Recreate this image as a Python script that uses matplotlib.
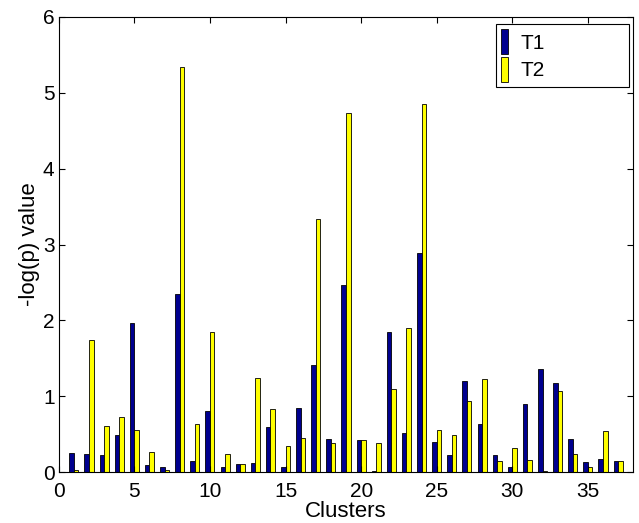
import numpy as np
import matplotlib
matplotlib.use("Agg")
import matplotlib.pyplot as plt

clusters = np.arange(1, 38)
t1 = [0.25, 0.24, 0.22, 0.49, 1.97, 0.09, 0.07, 2.35, 0.14, 0.80,
      0.07, 0.11, 0.12, 0.59, 0.07, 0.85, 1.41, 0.44, 2.47, 0.42,
      0.01, 1.85, 0.51, 2.89, 0.39, 0.22, 1.20, 0.63, 0.23, 0.07,
      0.90, 1.36, 1.17, 0.43, 0.13, 0.17, 0.15]
t2 = [0.02, 1.74, 0.61, 0.73, 0.56, 0.27, 0.02, 5.34, 0.63, 1.84,
      0.24, 0.10, 1.24, 0.83, 0.34, 0.45, 3.33, 0.38, 4.74, 0.42,
      0.38, 1.10, 1.90, 4.85, 0.55, 0.49, 0.93, 1.22, 0.15, 0.32,
      0.16, 0.01, 1.07, 0.24, 0.07, 0.54, 0.14]
series_names = ["T1", "T2"]

plt.rcParams['font.family'] = ['Liberation Sans', 'DejaVu Sans']

fig = plt.figure(figsize=(6.39, 5.23), dpi=100)
ax = fig.add_axes([0.092, 0.0975, 0.899, 0.870])

w = 0.3
ax.bar(clusters - w / 2, t1, width=w, color="#00008F", edgecolor="black",
       linewidth=0.6, label=series_names[0])
ax.bar(clusters + w / 2, t2, width=w, color="#FFFF00", edgecolor="black",
       linewidth=0.6, label=series_names[1])

ax.set_xlim(0, 38)
ax.set_ylim(0, 6)
ax.set_xticks(range(0, 36, 5))
ax.set_yticks(range(0, 7))
ax.tick_params(direction="in", top=True, right=True, labelsize=15,
               length=4, width=0.8)
ax.tick_params(axis="x", pad=7)
ax.tick_params(axis="y", pad=3)
for s in ax.spines.values():
    s.set_linewidth(0.8)
ax.set_xlabel("Clusters", fontsize=16, labelpad=0)
ax.set_ylabel("-log(p) value", fontsize=16, labelpad=2)

# legend box stretched like the matlab one
leg = ax.legend(loc="upper left", bbox_to_anchor=(0.761, 0.0, 0.232, 0.985),
                mode="expand", fontsize=15, handlelength=0.35,
                handleheight=1.5, handletextpad=0.6, borderaxespad=0.0,
                fancybox=False, edgecolor="black", framealpha=1,
                labelspacing=0.1, borderpad=0.25)
leg.get_frame().set_linewidth(0.8)

fig.savefig("out.png", dpi=100)
